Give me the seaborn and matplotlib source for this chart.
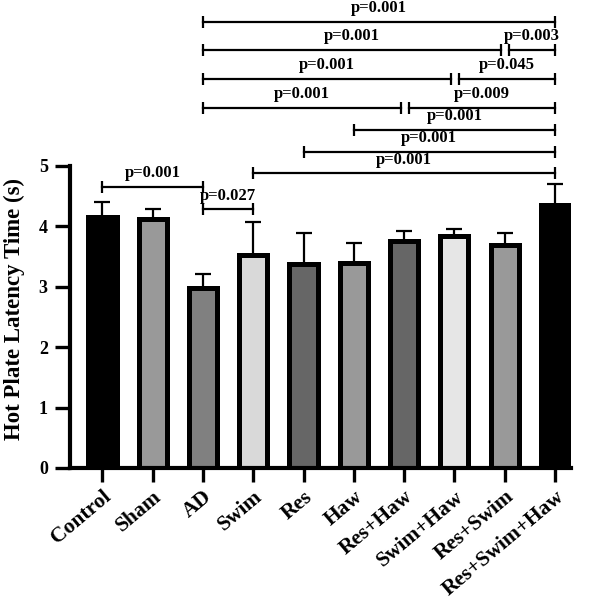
import matplotlib
matplotlib.use("Agg")
import matplotlib.pyplot as plt
import seaborn as sns
import pandas as pd

# group names, means and upper SD
groups = ["Control", "Sham", "AD", "Swim", "Res", "Haw",
          "Res+Haw", "Swim+Haw", "Res+Swim", "Res+Swim+Haw"]
means = [4.16, 4.13, 2.98, 3.52, 3.38, 3.40, 3.75, 3.84, 3.70, 4.36]
sd = [0.24, 0.16, 0.24, 0.55, 0.51, 0.33, 0.17, 0.12, 0.19, 0.34]
bar_colors = ["#000000", "#999999", "#808080", "#d9d9d9", "#666666",
              "#999999", "#666666", "#e6e6e6", "#999999", "#000000"]

# pairwise comparisons shown above the bars
comp_a = ["AD", "AD", "Res+Swim", "AD", "Swim+Haw", "AD", "Res+Haw",
          "Haw", "Res", "Swim", "Control", "AD"]
comp_b = ["Res+Swim+Haw", "Res+Swim", "Res+Swim+Haw", "Swim+Haw",
          "Res+Swim+Haw", "Res+Haw", "Res+Swim+Haw", "Res+Swim+Haw",
          "Res+Swim+Haw", "Res+Swim+Haw", "AD", "Swim"]
p_text = ["p=0.001", "p=0.001", "p=0.003", "p=0.001", "p=0.045",
          "p=0.001", "p=0.009", "p=0.001", "p=0.001", "p=0.001",
          "p=0.001", "p=0.027"]
levels = [7.39, 6.92, 6.92, 6.44, 6.44, 5.96, 5.96, 5.60, 5.23, 4.88,
          4.65, 4.28]

plt.rcParams["font.family"] = ["Liberation Serif", "DejaVu Serif"]
plt.rcParams["font.weight"] = "bold"

df = pd.DataFrame({"group": groups, "mean": means})

fig = plt.figure(figsize=(5.91, 6.02), dpi=100)
ax = fig.add_axes([70 / 591, 1 - 468 / 602, 501 / 591, 468 / 602])

pos = list(range(len(groups)))
ax.errorbar(pos, means, yerr=[[0] * len(sd), sd], fmt="none",
            ecolor="black", elinewidth=1.6, capsize=6, capthick=1.6,
            zorder=1)
sns.barplot(data=df, x="group", y="mean", hue="group", palette=bar_colors,
            legend=False, width=0.56, edgecolor="black", linewidth=3.6,
            ax=ax, zorder=2)

# significance brackets
idx = {g: i for i, g in enumerate(groups)}
for a, b, p, y in zip(comp_a, comp_b, p_text, levels):
    x1, x2 = idx[a], idx[b]
    # small gap where two brackets meet on the same row
    if levels.count(y) == 2:
        if b != "Res+Swim+Haw":
            x2 -= 0.07
        else:
            x1 += 0.09
    ax.plot([x1, x2], [y, y], color="black", lw=1.6, marker="|",
            markersize=8, mew=1.6, clip_on=False, zorder=3)
    ax.text((x1 + x2) / 2, y + 0.16, p, ha="center", va="baseline",
            fontsize=12, fontweight="bold", zorder=4)

ax.set_xlim(-0.646, 9.32)
ax.set_ylim(0, 7.748)
ax.set_yticks([0, 1, 2, 3, 4, 5])
ax.spines["left"].set_bounds(0, 5)
for s in ["top", "right"]:
    ax.spines[s].set_visible(False)
for s in ["left", "bottom"]:
    ax.spines[s].set_linewidth(3)
ax.tick_params(axis="y", length=11, width=2.4, labelsize=13, pad=5)
ax.tick_params(axis="x", length=10, width=2.4, labelsize=15.5)
ax.set_xlabel("")
ax.set_ylabel("Hot Plate Latency Time (s)", fontsize=16.5,
              fontweight="bold")
ax.yaxis.set_label_coords(-0.09, 0.34)
for lab in ax.get_xticklabels():
    lab.set_rotation(40)
    lab.set_ha("right")
    lab.set_rotation_mode("anchor")
    lab.set_fontweight("bold")
for lab in ax.get_yticklabels():
    lab.set_fontweight("bold")

fig.savefig("out.png", dpi=100)
